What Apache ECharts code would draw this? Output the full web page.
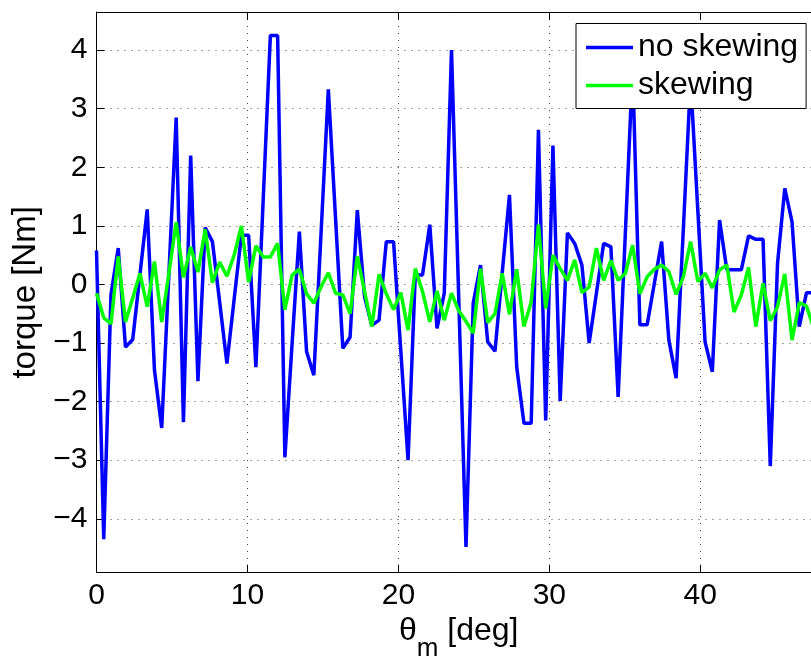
<!DOCTYPE html>
<html>
<head>
<meta charset="utf-8">
<script src="https://cdn.jsdelivr.net/npm/echarts@6/dist/echarts.min.js"></script>
<style>
html,body{margin:0;padding:0;background:#fff;}
#chart{width:811px;height:656px;}
</style>
</head>
<body>
<div id="chart"></div>
<script>
var theta = [0, 0.48, 0.96, 1.44, 1.92, 2.4, 2.88, 3.36, 3.84, 4.32,
  4.8, 5.28, 5.76, 6.24, 6.72, 7.2, 7.68, 8.16, 8.64, 9.12,
  9.6, 10.08, 10.56, 11.04, 11.52, 12, 12.48, 12.96, 13.44, 13.92,
  14.4, 14.88, 15.36, 15.84, 16.32, 16.8, 17.28, 17.76, 18.24, 18.72,
  19.2, 19.68, 20.16, 20.64, 21.12, 21.6, 22.08, 22.56, 23.04, 23.52,
  24, 24.48, 24.96, 25.44, 25.92, 26.4, 26.88, 27.36, 27.84, 28.32,
  28.8, 29.28, 29.76, 30.24, 30.72, 31.2, 31.68, 32.16, 32.64, 33.12,
  33.6, 34.08, 34.56, 35.04, 35.52, 36, 36.48, 36.96, 37.44, 37.92,
  38.4, 38.88, 39.36, 39.84, 40.32, 40.8, 41.28, 41.76, 42.24, 42.72,
  43.2, 43.68, 44.16, 44.64, 45.12, 45.6, 46.08, 46.56, 47.04, 47.52];

var noSkewing = [0.58, -4.35, -0.17, 0.62, -1.07, -0.94, 0.17, 1.28, -1.46, -2.45,
  0.2, 2.85, -2.35, 2.2, -1.65, 0.97, 0.73, -0.3, -1.35, -0.25,
  0.84, 0.84, -1.41, 1.42, 4.25, 4.25, -2.95, -1.0, 0.9, -1.15,
  -1.55, 0.89, 3.33, 1.12, -1.09, -0.9, 1.27, -0.21, -0.7, -0.61,
  0.73, 0.73, -1.13, -3.0, 0.16, 0.16, 1.02, -0.75, -0.15, 4.0,
  -0.24, -4.48, -0.32, 0.33, -0.98, -1.14, 0.2, 1.53, -1.41, -2.37,
  -2.37, 2.64, -2.32, 2.37, -1.99, 0.88, 0.7, 0.33, -1.0, -0.15,
  0.7, 0.64, -1.92, 0.89, 3.7, -0.69, -0.69, 0.02, 0.73, -0.95,
  -1.6, 0.95, 3.5, 1.26, -0.98, -1.49, 1.1, 0.25, 0.25, 0.25,
  0.83, 0.77, 0.77, -3.1, 0.36, 1.64, 1.07, -0.72, -0.14, -0.14];

var skewing = [-0.15, -0.57, -0.67, 0.48, -0.64, -0.23, 0.19, -0.38, 0.39, -0.64,
  0.2, 1.06, 0.12, 0.64, 0.21, 0.94, 0.03, 0.38, 0.14, 0.5,
  1.0, 0.04, 0.66, 0.47, 0.47, 0.7, -0.43, 0.16, 0.26, -0.16,
  -0.32, -0.04, 0.2, -0.15, -0.18, -0.5, 0.48, -0.12, -0.72, 0.17,
  -0.16, -0.43, -0.14, -0.78, 0.27, -0.12, -0.64, -0.11, -0.61, -0.15,
  -0.45, -0.63, -0.83, 0.27, -0.65, -0.5, 0.19, -0.51, 0.26, -0.72,
  -0.3, 1.02, -0.41, 0.5, 0.27, 0.07, 0.42, -0.14, -0.04, 0.62,
  0.07, 0.41, 0.07, 0.19, 0.67, -0.16, 0.13, 0.26, 0.33, 0.22,
  -0.17, 0.13, 0.73, 0.05, 0.19, -0.06, 0.25, 0.33, -0.47, -0.18,
  0.29, -0.72, 0.02, -0.62, -0.38, 0.18, -0.95, -0.31, -0.37, -0.75];

var seriesNames = ['no skewing', 'skewing'];
var xTicks = [0, 10, 20, 30, 40];
var yTicks = [-4, -3, -2, -1, 0, 1, 2, 3, 4];
var xTitle = '\u03B8';
var xTitleSub = 'm';
var xTitleRest = ' [deg]';
var yTitle = 'torque [Nm]';

function pairs(xs, ys) {
  var out = [];
  for (var i = 0; i < xs.length; i++) out.push([xs[i], ys[i]]);
  return out;
}
function fmt(v) {
  var s = String(Math.round(v * 100) / 100);
  return s.replace('-', '\u2212');
}

var FONT = 'Liberation Sans, Arial, Helvetica, sans-serif';
var dotted = { color: '#444', width: 1, type: [1, 6] };

var chart = echarts.init(document.getElementById('chart'), null, { renderer: 'canvas' });
chart.setOption({
  animation: false,
  backgroundColor: '#fff',
  grid: { left: 96.5, right: -10, top: 12, bottom: 83.3, containLabel: false, outerBoundsMode: 'none' },
  legend: {
    data: seriesNames,
    orient: 'vertical',
    left: 576, top: 23.5,
    padding: [8, 8, 7, 10],
    itemGap: 6,
    icon: 'rect',
    itemWidth: 47, itemHeight: 3.5,
    backgroundColor: '#fff',
    borderColor: '#000', borderWidth: 1, borderRadius: 0,
    textStyle: { fontSize: 32, color: '#000', fontFamily: FONT }
  },
  xAxis: [{
    type: 'value', min: 0, max: 48, position: 'bottom',
    name: '{a|' + xTitle + '}{s|' + xTitleSub + '}{a|' + xTitleRest + '}',
    nameLocation: 'middle', nameGap: 42,
    nameTextStyle: {
      rich: {
        a: { fontSize: 32, fontFamily: FONT, color: '#000', verticalAlign: 'bottom' },
        s: { fontSize: 26, fontFamily: FONT, color: '#000', verticalAlign: 'bottom', padding: [0, 0, -14, 0] }
      }
    },
    axisLine: { show: true, onZero: false, lineStyle: { color: '#000', width: 1 } },
    axisTick: { show: true, inside: true, length: 8, customValues: xTicks, lineStyle: { color: '#000' } },
    axisLabel: { fontSize: 30, color: '#000', fontFamily: FONT, margin: 8, customValues: xTicks, formatter: fmt },
    splitLine: { show: true, lineStyle: dotted }
  }, {
    type: 'value', min: 0, max: 48, position: 'top',
    axisLine: { show: true, onZero: false, lineStyle: { color: '#000', width: 1 } },
    axisTick: { show: true, inside: true, length: 8, customValues: xTicks, lineStyle: { color: '#000' } },
    axisLabel: { show: false },
    splitLine: { show: false }
  }],
  yAxis: {
    type: 'value', min: -4.92, max: 4.65,
    name: yTitle, nameLocation: 'middle', nameGap: 39, nameRotate: 90,
    nameTextStyle: { fontSize: 33, color: '#000', fontFamily: FONT },
    axisLine: { show: true, onZero: false, lineStyle: { color: '#000', width: 1 } },
    axisTick: { show: true, inside: true, length: 8, customValues: yTicks, lineStyle: { color: '#000' } },
    axisLabel: { fontSize: 30, color: '#000', fontFamily: FONT, margin: 9, customValues: yTicks, formatter: fmt },
    splitLine: { show: true, lineStyle: dotted }
  },
  series: [{
    name: seriesNames[0], type: 'line', xAxisIndex: 0,
    data: pairs(theta, noSkewing),
    showSymbol: false, symbol: 'none', clip: true,
    lineStyle: { color: '#0000ff', width: 3.5 },
    itemStyle: { color: '#0000ff' }
  }, {
    name: seriesNames[1], type: 'line', xAxisIndex: 0,
    data: pairs(theta, skewing),
    showSymbol: false, symbol: 'none', clip: true,
    lineStyle: { color: '#00ff00', width: 3.5 },
    itemStyle: { color: '#00ff00' }
  }]
});
</script>
</body>
</html>
